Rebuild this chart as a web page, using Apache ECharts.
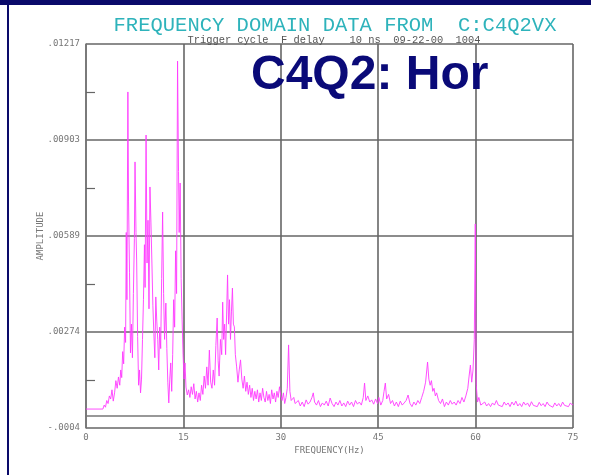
<!DOCTYPE html>
<html><head><meta charset="utf-8">
<script src="https://cdn.jsdelivr.net/npm/echarts@6/dist/echarts.min.js"></script>
<style>html,body{margin:0;padding:0;background:#fff}#c{width:591px;height:475px}</style>
</head><body><div id="c"></div>
<script>
const titleText = 'FREQUENCY DOMAIN DATA FROM  C:C4Q2VX';
const subText = 'Trigger cycle  F delay    10 ns  09-22-00  1004';
const overlayText = 'C4Q2: Hor';
const xTickLabels = ['0', '15', '30', '45', '60', '75'];
const yTickLabels = ['-.0004', '.00274', '.00589', '.00903', '.01217'];
const xName = 'FREQUENCY(Hz)';
const yName = 'AMPLITUDE';

const freqHz = [
 0,2.6,2.8,3.0,3.2,3.4,3.6,3.8,4.0,4.2,
 4.4,4.6,4.8,5.0,5.2,5.35,5.5,5.65,5.8,5.95,
 6.1,6.2,6.3,6.45,6.55,6.7,6.85,7.0,7.15,7.3,
 7.45,7.55,7.7,7.8,7.95,8.1,8.25,8.4,8.55,8.7,
 8.85,9.0,9.1,9.25,9.4,9.55,9.7,9.85,10.0,10.15,
 10.3,10.45,10.6,10.75,10.9,11.05,11.2,11.35,11.5,11.65,
 11.8,11.95,12.1,12.3,12.45,12.6,12.75,12.9,13.05,13.2,
 13.35,13.5,13.65,13.8,13.95,14.1,14.25,14.35,14.5,14.65,
 14.8,14.95,15.1,15.25,15.4,15.6,15.8,16.0,16.2,16.4,
 16.6,16.8,17.0,17.2,17.4,17.6,17.8,18.0,18.2,18.4,
 18.6,18.8,19.0,19.2,19.4,19.6,19.8,20.0,20.2,20.35,
 20.5,20.7,20.9,21.05,21.2,21.35,21.5,21.65,21.8,21.95,
 22.1,22.25,22.4,22.55,22.7,22.85,23.0,23.2,23.4,23.6,
 23.8,24.0,24.2,24.4,24.6,24.8,25.0,25.2,25.4,25.6,
 25.8,26.0,26.2,26.4,26.6,26.8,27.0,27.2,27.4,27.6,
 27.8,28.0,28.2,28.4,28.6,28.8,29.0,29.2,29.4,29.6,
 29.8,30.0,30.2,30.4,30.6,30.8,31.0,31.2,31.4,31.6,
 31.8,32.0,32.2,32.4,32.7,33.0,33.3,33.6,33.9,34.2,
 34.5,34.8,35.0,35.2,35.5,35.8,36.1,36.4,36.7,37.0,
 37.3,37.6,37.9,38.2,38.5,38.8,39.1,39.4,39.7,40.0,
 40.3,40.6,40.9,41.2,41.5,41.8,42.1,42.4,42.7,42.9,
 43.1,43.4,43.7,44.0,44.3,44.6,44.9,45.1,45.4,45.7,
 45.9,46.1,46.3,46.6,46.9,47.2,47.5,47.8,48.1,48.4,
 48.7,49.0,49.3,49.6,49.9,50.2,50.5,50.8,51.1,51.4,
 51.7,52.0,52.3,52.6,52.8,53.0,53.2,53.4,53.6,53.8,
 54.0,54.3,54.6,54.9,55.2,55.5,55.8,56.1,56.4,56.7,
 57.0,57.3,57.6,57.9,58.2,58.5,58.8,59.0,59.2,59.4,
 59.6,59.8,59.95,60.1,60.3,60.5,60.8,61.1,61.4,61.7,
 62.0,62.3,62.6,62.9,63.2,63.5,63.8,64.1,64.4,64.7,
 65.0,65.3,65.6,65.9,66.2,66.5,66.8,67.1,67.4,67.7,
 68.0,68.3,68.6,68.9,69.2,69.5,69.8,70.1,70.4,70.7,
 71.0,71.3,71.6,71.9,72.2,72.5,72.8,73.1,73.4,73.7,
 74.0,74.3,74.6,74.9,75
];
const amplitude = [
 0.00022,0.00022,0.00035,0.00028,0.00050,0.00040,0.00065,0.00055,0.00085,0.00048,
 0.00075,0.00115,0.00090,0.00127,0.00100,0.00150,0.00125,0.00210,0.00170,0.00290,
 0.00240,0.00600,0.00380,0.01060,0.00700,0.00470,0.00206,0.00300,0.00190,0.00400,
 0.00580,0.00831,0.00600,0.00510,0.00260,0.00100,0.00150,0.00075,0.00120,0.00250,
 0.00380,0.00560,0.00420,0.00919,0.00500,0.00640,0.00350,0.00749,0.00634,0.00500,
 0.00360,0.00270,0.00190,0.00389,0.00310,0.00250,0.00150,0.00290,0.00220,0.00450,
 0.00667,0.00400,0.00250,0.00369,0.00220,0.00110,0.00042,0.00120,0.00173,0.00080,
 0.00200,0.00380,0.00290,0.00540,0.00400,0.01161,0.00800,0.00600,0.00762,0.00450,
 0.00314,0.00200,0.00120,0.00173,0.00094,0.00068,0.00085,0.00060,0.00095,0.00070,
 0.00105,0.00055,0.00080,0.00045,0.00075,0.00050,0.00100,0.00070,0.00130,0.00090,
 0.00160,0.00100,0.00215,0.00110,0.00090,0.00150,0.00100,0.00230,0.00320,0.00180,
 0.00130,0.00250,0.00200,0.00372,0.00250,0.00300,0.00200,0.00330,0.00461,0.00300,
 0.00380,0.00250,0.00340,0.00418,0.00300,0.00291,0.00200,0.00160,0.00110,0.00150,
 0.00183,0.00120,0.00090,0.00130,0.00080,0.00110,0.00070,0.00100,0.00060,0.00090,
 0.00050,0.00080,0.00055,0.00085,0.00045,0.00075,0.00050,0.00090,0.00060,0.00045,
 0.00080,0.00050,0.00070,0.00040,0.00085,0.00055,0.00075,0.00045,0.00080,0.00060,
 0.00095,0.00065,0.00050,0.00075,0.00040,0.00060,0.00090,0.00232,0.00080,0.00050,
 0.00045,0.00060,0.00040,0.00035,0.00050,0.00032,0.00045,0.00030,0.00052,0.00038,
 0.00045,0.00060,0.00075,0.00045,0.00035,0.00050,0.00030,0.00042,0.00035,0.00048,
 0.00032,0.00058,0.00040,0.00030,0.00045,0.00035,0.00050,0.00032,0.00042,0.00030,
 0.00048,0.00035,0.00045,0.00030,0.00050,0.00038,0.00045,0.00035,0.00060,0.00107,
 0.00050,0.00065,0.00045,0.00052,0.00038,0.00055,0.00040,0.00060,0.00035,0.00050,
 0.00080,0.00107,0.00055,0.00070,0.00040,0.00050,0.00032,0.00045,0.00030,0.00048,
 0.00035,0.00042,0.00050,0.00068,0.00040,0.00030,0.00045,0.00035,0.00050,0.00040,
 0.00060,0.00080,0.00110,0.00176,0.00120,0.00100,0.00115,0.00080,0.00090,0.00065,
 0.00075,0.00050,0.00040,0.00055,0.00030,0.00045,0.00035,0.00050,0.00038,0.00045,
 0.00035,0.00050,0.00040,0.00060,0.00045,0.00065,0.00090,0.00130,0.00166,0.00110,
 0.00150,0.00250,0.00628,0.00100,0.00045,0.00060,0.00035,0.00030,0.00045,0.00032,
 0.00040,0.00030,0.00042,0.00035,0.00050,0.00035,0.00040,0.00030,0.00045,0.00035,
 0.00042,0.00030,0.00045,0.00035,0.00048,0.00032,0.00040,0.00030,0.00045,0.00035,
 0.00042,0.00030,0.00046,0.00034,0.00040,0.00030,0.00044,0.00033,0.00040,0.00030,
 0.00045,0.00035,0.00040,0.00028,0.00042,0.00032,0.00040,0.00030,0.00045,0.00034,
 0.00040,0.00030,0.00042,0.00035,0.00038
];

const data = freqHz.map((f, i) => [f, amplitude[i]]);
const yMin = -0.0004, yMax = 0.01217;
const yStep = (yMax - yMin) / 4;

const chart = echarts.init(document.getElementById('c'), null, {renderer: 'canvas'});
chart.setOption({
  animation: false,
  backgroundColor: '#ffffff',
  title: [
    {text: titleText, left: 330, top: 10, textAlign: 'center',
     textStyle: {fontFamily: 'Liberation Mono', fontSize: 20.5, fontWeight: 'normal', color: '#2eb3bb'}},
    {text: subText, left: 329, top: 30, textAlign: 'center',
     textStyle: {fontFamily: 'Liberation Mono', fontSize: 10.4, fontWeight: 'normal', color: '#555'}},
    {text: overlayText, left: 246, top: 47,
     textStyle: {fontFamily: 'Liberation Sans', fontSize: 48, fontWeight: 'bold', color: '#0a0a78'}}
  ],
  graphic: [
    {type: 'rect', left: 0, top: 0, shape: {width: 591, height: 5}, style: {fill: '#0a0a6a'}},
    {type: 'rect', left: 7, top: 0, shape: {width: 2, height: 475}, style: {fill: '#0a0a6a'}}
  ],
  grid: {left: 86, right: 18, top: 44, bottom: 47},
  xAxis: {
    type: 'value', min: 0, max: 75, interval: 15,
    name: xName, nameLocation: 'middle', nameGap: 18, nameMoveOverlap: false,
    nameTextStyle: {fontFamily: 'DejaVu Sans Mono', fontSize: 9, color: '#777'},
    axisLine: {show: true, lineStyle: {color: '#777', width: 1.5}},
    axisTick: {show: false},
    axisLabel: {fontFamily: 'DejaVu Sans Mono', fontSize: 9, color: '#777', margin: 5,
      formatter: (v, i) => xTickLabels[i]},
    splitLine: {show: true, lineStyle: {color: '#666', width: 1.6}}
  },
  yAxis: [{
    type: 'value', min: yMin, max: yMax, interval: yStep,
    name: yName, nameLocation: 'middle', nameGap: 41, nameRotate: 90, nameMoveOverlap: false,
    nameTextStyle: {fontFamily: 'DejaVu Sans Mono', fontSize: 9, color: '#777'},
    axisLine: {show: true, lineStyle: {color: '#777', width: 1.5}},
    axisTick: {show: false},
    axisLabel: {fontFamily: 'DejaVu Sans Mono', fontSize: 9, color: '#777', margin: 6,
      formatter: (v, i) => yTickLabels[i]},
    splitLine: {show: true, lineStyle: {color: '#666', width: 1.6}}
  }, {
    type: 'value', min: yMin, max: yMax, interval: yStep,
    position: 'right', offset: -487,
    axisLine: {show: false},
    axisTick: {show: false},
    axisLabel: {show: false},
    splitLine: {show: false},
    minorTick: {show: true, splitNumber: 2, length: 9, lineStyle: {color: '#666', width: 1.2}}
  }],
  series: [{
    type: 'line', data: data, showSymbol: false, symbol: 'none',
    lineStyle: {color: '#ff3cff', width: 1, opacity: 0.9},
    z: 3
  }]
});
</script></body></html>
